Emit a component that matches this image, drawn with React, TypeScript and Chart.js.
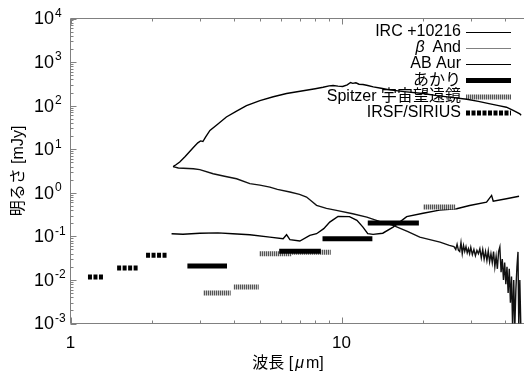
import React, { useEffect, useRef } from 'react';
import { Chart, registerables } from 'chart.js';

Chart.register(...registerables);

const X_MIN = 1;
const X_MAX = 50;
const Y_MIN = 1e-3;
const Y_MAX = 1e4;

// IRC +10216 spectrum (wavelength [um], flux [mJy])
const ircWave = [2.39, 2.45, 2.53, 2.65, 2.84, 2.95, 3.02, 3.08, 3.15, 3.27, 3.5, 3.76, 4.1, 4.46, 5.0, 5.6, 6.27, 7.22, 8.0, 8.55, 9.0, 9.31, 9.7, 10.1, 10.5, 10.8, 11.0, 11.3, 11.6, 12.0, 12.5, 13.1, 14.0, 15.1, 17.0, 20.0, 22.5, 25.0, 29.0, 32.0, 35.0, 38.0, 40.6, 43.0, 45.5, 46.0];
const ircFlux = [4.0, 4.4, 5.1, 6.8, 11, 14, 15.5, 15.0, 19, 27, 38, 55, 75, 100, 130, 160, 190, 220, 245, 265, 285, 290, 280, 275, 300, 340, 325, 335, 310, 305, 290, 270, 250, 230, 210, 190, 170, 157, 140, 125, 111, 100, 92, 78, 65, 60];

// beta And spectrum
const betaWave = [2.39, 2.5, 2.84, 3.0, 3.36, 3.7, 4.1, 4.59, 5.0, 5.44, 5.8, 6.45, 7.0, 7.43, 7.8, 8.09, 8.8, 9.58, 11.0, 12.4, 13.8, 15.5, 17.5, 19.45, 21.0, 23.1, 25.0, 26.0, 26.4, 26.7, 27.0, 27.3, 27.6, 27.9, 28.2, 28.5, 28.8, 29.1, 29.4, 29.7, 30.0, 30.4, 30.8, 31.2, 31.6, 32.0, 32.4, 32.8, 33.2, 33.6, 34.0, 34.4, 34.8, 35.2, 35.6, 36.0, 36.4, 36.8, 37.2, 37.6, 38.0, 38.4, 38.8, 39.2, 39.6, 40.0, 40.4, 40.8, 41.2, 41.6, 42.0, 42.4, 42.8, 43.2, 43.6, 44.0, 44.4, 44.8, 45.1, 45.5, 45.9];
const betaFlux = [4.0, 3.7, 3.57, 3.4, 2.74, 2.4, 2.1, 1.62, 1.5, 1.35, 1.2, 1.04, 0.92, 0.8, 0.62, 0.514, 0.44, 0.395, 0.33, 0.277, 0.22, 0.179, 0.13, 0.096, 0.085, 0.074, 0.062, 0.058, 0.05, 0.066, 0.048, 0.045, 0.072, 0.04, 0.062, 0.045, 0.058, 0.042, 0.052, 0.04, 0.056, 0.038, 0.05, 0.036, 0.048, 0.04, 0.052, 0.032, 0.05, 0.03, 0.045, 0.028, 0.046, 0.026, 0.04, 0.025, 0.045, 0.02, 0.035, 0.018, 0.045, 0.057, 0.015, 0.03, 0.01, 0.025, 0.008, 0.02, 0.005, 0.018, 0.003, 0.012, 0.0008, 0.01, 0.0008, 0.006, 0.02, 0.044, 0.0008, 0.01, 0.0008];

// AB Aur spectrum
const abWave = [2.36, 2.6, 3.0, 3.5, 3.97, 4.59, 5.44, 6.09, 6.27, 6.45, 7.02, 7.64, 8.09, 8.6, 9.05, 9.71, 10.7, 11.4, 12.0, 12.5, 13.08, 14.2, 15.5, 17.4, 20.0, 23.0, 26.6, 29.7, 34.3, 35.8, 36.3, 40.6, 45.2];
const abFlux = [0.115, 0.112, 0.118, 0.12, 0.115, 0.109, 0.096, 0.0885, 0.109, 0.084, 0.078, 0.105, 0.115, 0.15, 0.213, 0.288, 0.284, 0.233, 0.163, 0.115, 0.111, 0.118, 0.163, 0.284, 0.34, 0.4, 0.43, 0.51, 0.61, 0.87, 0.645, 0.73, 0.83];

// AKARI photometry bands
const akariLo = [2.7, 5.89, 8.51, 12.5];
const akariHi = [3.78, 8.39, 13.0, 19.3];
const akariFlux = [0.0208, 0.0453, 0.0886, 0.202];

// Spitzer photometry bands
const spitzerLo = [3.09, 4.0, 4.97, 6.54, 20.0];
const spitzerHi = [3.9, 4.95, 6.54, 9.13, 26.3];
const spitzerFlux = [0.005, 0.0069, 0.04, 0.043, 0.47];

// IRSF/SIRIUS photometry bands
const sirLo = [1.16, 1.486, 1.9];
const sirHi = [1.32, 1.787, 2.27];
const sirFlux = [0.0117, 0.0188, 0.0367];

const xTickValues = [1, 10];
const xTickLabels = ['1', '10'];
const yExponents = [-3, -2, -1, 0, 1, 2, 3, 4];
const legendLabels = ['IRC +10216', 'β And', 'AB Aur', 'あかり', 'Spitzer 宇宙望遠鏡', 'IRSF/SIRIUS'];
const xTitle = ['波長 [', 'μ', 'm]'];
const yTitle = '明るさ [mJy]';

const FONT = '"Liberation Sans", "Noto Sans CJK JP", Arial, sans-serif';
const AXIS = '#808080';

function pairs(xs: number[], ys: number[]) {
  return xs.map((x, i) => ({ x, y: ys[i] }));
}

export default function App() {
  const ref = useRef<HTMLCanvasElement | null>(null);

  useEffect(() => {
    const canvas = ref.current;
    if (!canvas) return;
    const c2d = canvas.getContext('2d')!;
    const pc = document.createElement('canvas');
    pc.width = 2;
    pc.height = 1;
    const pctx = pc.getContext('2d')!;
    pctx.fillStyle = '#c8c8c8';
    pctx.fillRect(0, 0, 2, 1);
    pctx.fillStyle = '#555555';
    pctx.fillRect(0, 0, 1, 1);
    const stripe = c2d.createPattern(pc, 'repeat')!;

    const bar = (lo: number, hi: number, v: number, extra: any) => ({
      data: [{ x: lo, y: v }, { x: hi, y: v }],
      showLine: true,
      pointRadius: 0,
      borderCapStyle: 'butt',
      ...extra,
    });

    const datasets: any[] = [
      ...akariLo.map((lo, i) => bar(lo, akariHi[i], akariFlux[i], { label: legendLabels[3], borderColor: '#000', borderWidth: 5 })),
      ...spitzerLo.map((lo, i) => bar(lo, spitzerHi[i], spitzerFlux[i], { label: legendLabels[4], borderColor: stripe, borderWidth: 5 })),
      ...sirLo.map((lo, i) => bar(lo, sirHi[i], sirFlux[i], { label: legendLabels[5], borderColor: '#000', borderWidth: 5, borderDash: [4, 1.5] })),
      { label: legendLabels[0], data: pairs(ircWave, ircFlux), showLine: true, pointRadius: 0, borderColor: '#000', borderWidth: 1.4 },
      { label: legendLabels[1], data: pairs(betaWave, betaFlux), showLine: true, pointRadius: 0, borderColor: '#111', borderWidth: 1.4 },
      { label: legendLabels[2], data: pairs(abWave, abFlux), showLine: true, pointRadius: 0, borderColor: '#000', borderWidth: 1.4 },
    ];

    const decor = {
      id: 'decor',
      beforeDatasetsDraw(chart: any) {
        const { ctx, chartArea: a, scales } = chart;
        const xs = scales.x;
        const ys = scales.y;
        ctx.save();
        ctx.strokeStyle = AXIS;
        ctx.lineWidth = 1;
        ctx.beginPath();
        ctx.moveTo(a.right + 20, a.top);
        ctx.lineTo(a.left, a.top);
        ctx.lineTo(a.left, a.bottom);
        ctx.lineTo(a.right + 20, a.bottom);
        ctx.stroke();
        // x ticks (bottom + top mirror)
        ctx.beginPath();
        for (const d of [1, 10]) {
          for (let m = 1; m <= 9; m++) {
            const v = m * d;
            if (v > X_MAX) continue;
            const px = Math.round(xs.getPixelForValue(v)) + 0.5;
            const len = m === 1 ? 6 : 3;
            ctx.moveTo(px, a.bottom);
            ctx.lineTo(px, a.bottom - len);
            ctx.moveTo(px, a.top);
            ctx.lineTo(px, a.top + len);
          }
        }
        for (let e = -3; e <= 4; e++) {
          for (let m = 1; m <= 9; m++) {
            const v = m * Math.pow(10, e);
            if (v > Y_MAX * 1.0001) continue;
            const py = Math.round(ys.getPixelForValue(v)) + 0.5;
            const len = m === 1 ? 6 : 3;
            ctx.moveTo(a.left, py);
            ctx.lineTo(a.left + len, py);
          }
        }
        ctx.stroke();

        // tick labels
        ctx.fillStyle = '#000';
        ctx.textBaseline = 'middle';
        ctx.textAlign = 'center';
        ctx.font = '17px ' + FONT;
        xTickValues.forEach((v, i) => {
          ctx.fillText(xTickLabels[i], xs.getPixelForValue(v), a.bottom + 20);
        });
        ctx.textAlign = 'left';
        yExponents.forEach((e) => {
          const py = ys.getPixelForValue(Math.pow(10, e));
          ctx.font = '18px ' + FONT;
          ctx.fillText('10', 34, py + 1);
          const w = ctx.measureText('10').width;
          ctx.font = '12px ' + FONT;
          ctx.fillText(e < 0 ? '-' + Math.abs(e) : String(e), 34 + w + 1, py - 5);
        });

        // axis titles
        ctx.font = '16px ' + FONT;
        ctx.save();
        ctx.translate(19, (a.top + a.bottom) / 2);
        ctx.rotate(-Math.PI / 2);
        ctx.textAlign = 'center';
        ctx.fillText(yTitle, 0, 0);
        ctx.restore();
        {
          const w0 = ctx.measureText(xTitle[0]).width;
          ctx.font = 'italic 16px ' + FONT;
          const w1 = ctx.measureText(xTitle[1]).width;
          ctx.font = '16px ' + FONT;
          const w2 = ctx.measureText(xTitle[2]).width;
          const total = w0 + w1 + w2 + 4;
          let x0 = 288 - total / 2;
          ctx.textAlign = 'left';
          ctx.fillText(xTitle[0], x0, 364);
          x0 += w0 + 2;
          ctx.font = 'italic 16px ' + FONT;
          ctx.fillText(xTitle[1], x0, 364);
          x0 += w1 + 2;
          ctx.font = '16px ' + FONT;
          ctx.fillText(xTitle[2], x0, 364);
        }

        // legend
        const rows = [32, 48, 63.5, 80.5, 97, 113];
        const tx = 461;
        const sx0 = 466;
        const sx1 = 511;
        ctx.font = '16px ' + FONT;
        ctx.textAlign = 'right';
        legendLabels.forEach((lab, i) => {
          const y = rows[i];
          if (i === 1) {
            ctx.font = '16px ' + FONT;
            ctx.fillText('And', tx, y);
            const w = ctx.measureText('And').width;
            ctx.font = 'italic 16px ' + FONT;
            ctx.fillText('β', tx - w - 8, y);
            ctx.font = '16px ' + FONT;
          } else {
            ctx.fillText(lab, tx, y);
          }
          ctx.save();
          ctx.beginPath();
          const ly = i < 3 ? Math.round(y) + 0.5 : y;
          ctx.moveTo(sx0, ly);
          ctx.lineTo(sx1, ly);
          if (i === 0 || i === 2) {
            ctx.strokeStyle = '#000';
            ctx.lineWidth = 1;
          } else if (i === 1) {
            ctx.strokeStyle = '#808080';
            ctx.lineWidth = 1;
          } else if (i === 3) {
            ctx.strokeStyle = '#000';
            ctx.lineWidth = 5;
          } else if (i === 4) {
            ctx.strokeStyle = stripe;
            ctx.lineWidth = 5;
          } else {
            ctx.strokeStyle = '#000';
            ctx.lineWidth = 5;
            ctx.setLineDash([4, 1.5]);
          }
          ctx.stroke();
          ctx.restore();
        });
        ctx.restore();
      },
    };

    const W = 545;
    const H = 372;
    const left = 70.5;
    const top = 18.5;
    const bottom = 323.5;
    const right = left + 271 * Math.log10(X_MAX);

    const chart = new Chart(canvas, {
      type: 'scatter',
      data: { datasets },
      options: {
        animation: false,
        responsive: false,
        devicePixelRatio: 1,
        layout: { padding: { left, top, right: W - right, bottom: H - bottom } },
        plugins: { legend: { display: false }, tooltip: { enabled: false }, title: { display: false } },
        elements: { line: { tension: 0 } },
        scales: {
          x: { type: 'logarithmic', min: X_MIN, max: X_MAX, display: false },
          y: { type: 'logarithmic', min: Y_MIN, max: Y_MAX, display: false },
        },
      },
      plugins: [decor],
    } as any);
    return () => chart.destroy();
  }, []);

  return (
    <div style={{ position: 'absolute', left: 0, top: 0, width: 524, height: 372, overflow: 'hidden', background: '#fff' }}>
      <canvas ref={ref} width={545} height={372} style={{ display: 'block', width: 545, height: 372 }} />
    </div>
  );
}
